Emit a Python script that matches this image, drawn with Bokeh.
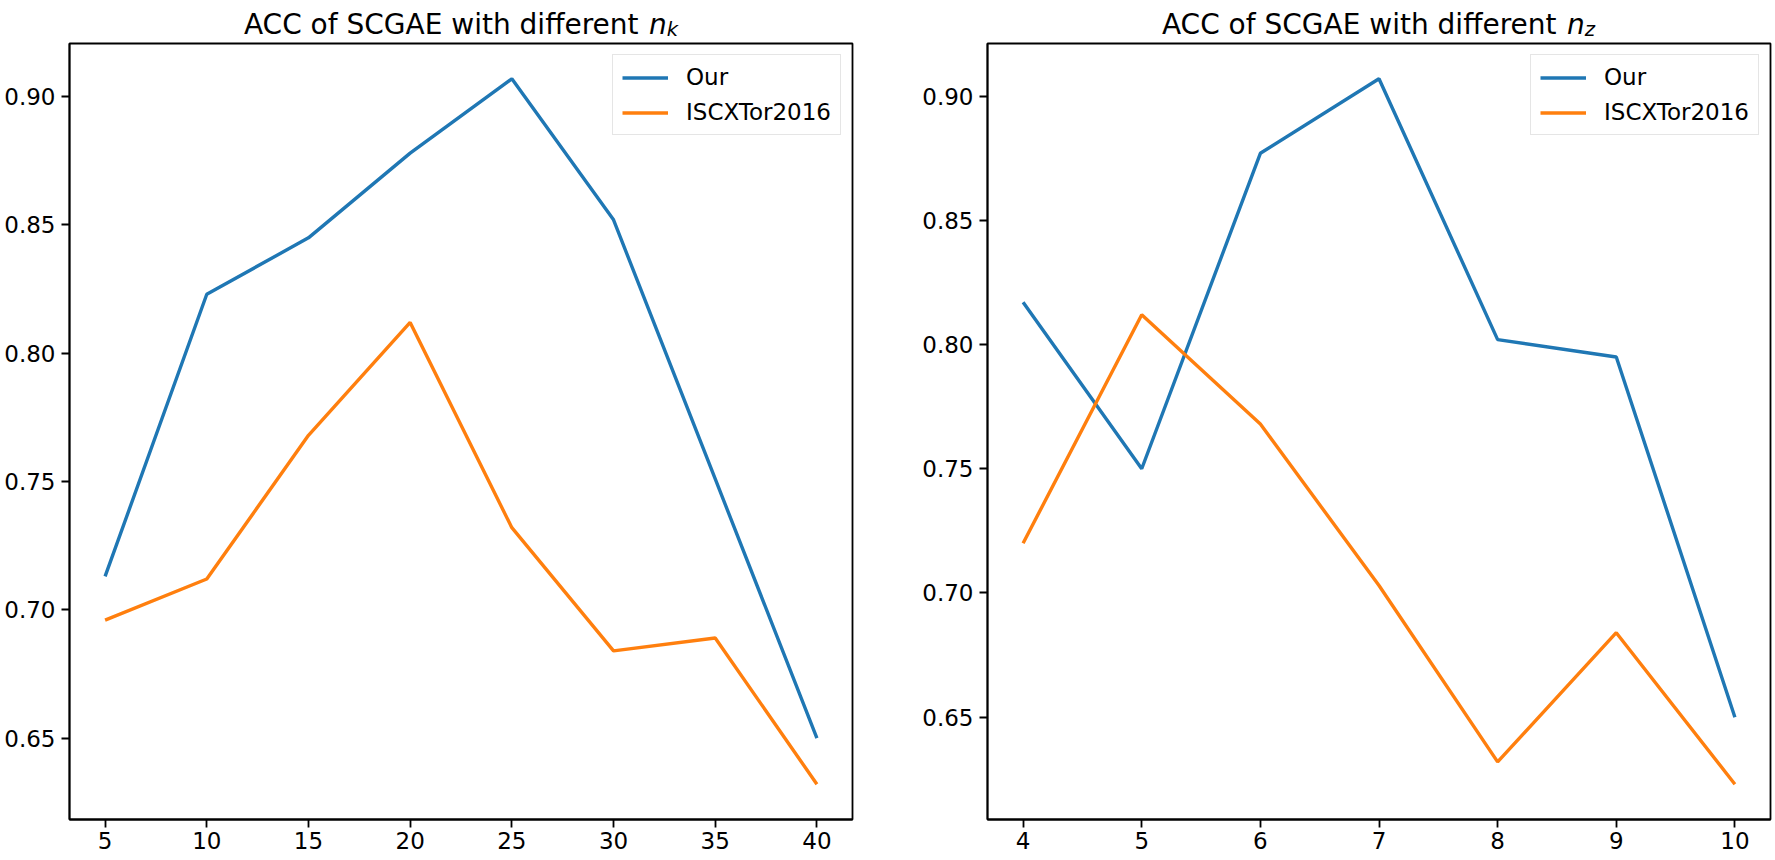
from bokeh.plotting import figure
from bokeh.layouts import row, column
from bokeh.models import Range1d, FixedTicker, Legend, LegendItem, PrintfTickFormatter
from bokeh.core.properties import value
from bokeh.embed import file_html
from bokeh.resources import INLINE

# ---- data ----
nk = [5, 10, 15, 20, 25, 30, 35, 40]
our_k = [0.713, 0.823, 0.845, 0.878, 0.907, 0.852, 0.751, 0.650]
iscx_k = [0.696, 0.712, 0.768, 0.812, 0.732, 0.684, 0.689, 0.632]

nz = [4, 5, 6, 7, 8, 9, 10]
our_z = [0.817, 0.750, 0.877, 0.907, 0.802, 0.795, 0.650]
iscx_z = [0.720, 0.812, 0.768, 0.703, 0.632, 0.684, 0.623]

y_ticks = [0.65, 0.70, 0.75, 0.80, 0.85, 0.90]
series_names = ["Our", "ISCXTor2016"]
series_colors = ["#1f77b4", "#ff7f0e"]
title_main = "ACC of SCGAE with different"
subscripts = ["k", "z"]

FONT = "DejaVu Sans"
TICK_FS = "23px"
TITLE_FS = 28
TITLE_H = 41
PANEL_H = 819
BL = 69
FRAME_W = 783


def pad_range(vals, frac=0.05):
    lo, hi = min(vals), max(vals)
    d = (hi - lo) * frac
    return lo - d, hi + d


def make_title(width, sub):
    t = figure(width=width, height=TITLE_H, output_backend="svg", toolbar_location=None,
               x_range=Range1d(0, width), y_range=Range1d(0, TITLE_H),
               x_axis_type=None, y_axis_type=None,
               min_border_left=0, min_border_right=0, min_border_top=0, min_border_bottom=0)
    t.grid.visible = False
    t.outline_line_color = None
    t.background_fill_color = "white"
    t.border_fill_color = "white"
    fs = TITLE_FS
    w_main_sp = 14.464 * fs
    w_n = 0.634 * fs
    w_k = 0.579 * fs * 0.7
    total = w_main_sp + w_n + w_k
    xc = BL + FRAME_W / 2.0
    start = xc - total / 2.0
    base = 17
    t.text(x=[start], y=[base], text=[title_main], text_align="left",
           text_baseline="alphabetic", text_font=value(FONT),
           text_font_size=value(f"{fs}px"), text_color="black")
    n_x = start + w_main_sp
    t.text(x=[n_x], y=[base], text=["n"], text_align="left",
           text_baseline="alphabetic", text_font=value(FONT), text_font_style=value("italic"),
           text_font_size=value(f"{fs}px"), text_color="black")
    t.text(x=[n_x + w_n], y=[base - 5], text=[sub], text_align="left",
           text_baseline="alphabetic", text_font=value(FONT), text_font_style=value("italic"),
           text_font_size=value(f"{fs * 0.7:.1f}px"), text_color="black")
    return t


def make_panel(x, ys, width, br):
    x0, x1 = pad_range(x)
    y0, y1 = pad_range(ys[0] + ys[1])
    p = figure(width=width, height=PANEL_H, output_backend="svg", toolbar_location=None,
               x_range=Range1d(x0, x1), y_range=Range1d(y0, y1),
               min_border_left=BL, min_border_right=br, min_border_top=2, min_border_bottom=41)
    p.grid.visible = False
    p.outline_line_color = "black"
    p.outline_line_width = 1.8
    p.background_fill_color = "white"
    p.border_fill_color = "white"

    renderers = []
    for yv, c in zip(ys, series_colors):
        r = p.line(x, yv, line_color=c, line_width=3.4)
        renderers.append(r)

    p.xaxis.ticker = FixedTicker(ticks=x)
    p.yaxis.ticker = FixedTicker(ticks=y_ticks)
    p.yaxis.formatter = PrintfTickFormatter(format="%.2f")
    for ax in (p.xaxis, p.yaxis):
        ax.major_label_text_font = FONT
        ax.major_label_text_font_size = TICK_FS
        ax.major_label_text_color = "black"
        ax.axis_line_color = "black"
        ax.axis_line_width = 1.8
        ax.major_tick_line_color = "black"
        ax.major_tick_line_width = 1.8
        ax.major_tick_in = 0
        ax.major_tick_out = 8
        ax.minor_tick_line_color = None
    p.yaxis.major_label_standoff = 6
    p.xaxis.major_label_standoff = 4

    items = [LegendItem(label=n, renderers=[r]) for n, r in zip(series_names, renderers)]
    leg = Legend(items=items, location="top_right", margin=11, padding=9, spacing=9,
                 glyph_width=46, glyph_height=23, label_height=23, label_standoff=18,
                 label_text_font=FONT, label_text_font_size=TICK_FS, label_text_color="black",
                 border_line_color="#cccccc", border_line_width=1.6,
                 background_fill_color="white", background_fill_alpha=0.8)
    p.add_layout(leg, "center")
    return p


W1 = 918
W2 = 1775 - W1
t1 = make_title(W1, subscripts[0])
t2 = make_title(W2, subscripts[1])
p1 = make_panel(nk, [our_k, iscx_k], W1, W1 - BL - FRAME_W)
p2 = make_panel(nz, [our_z, iscx_z], W2, W2 - BL - FRAME_W)

layout = column(row(t1, t2), row(p1, p2))
open("out.html", "w").write(file_html(layout, INLINE))
